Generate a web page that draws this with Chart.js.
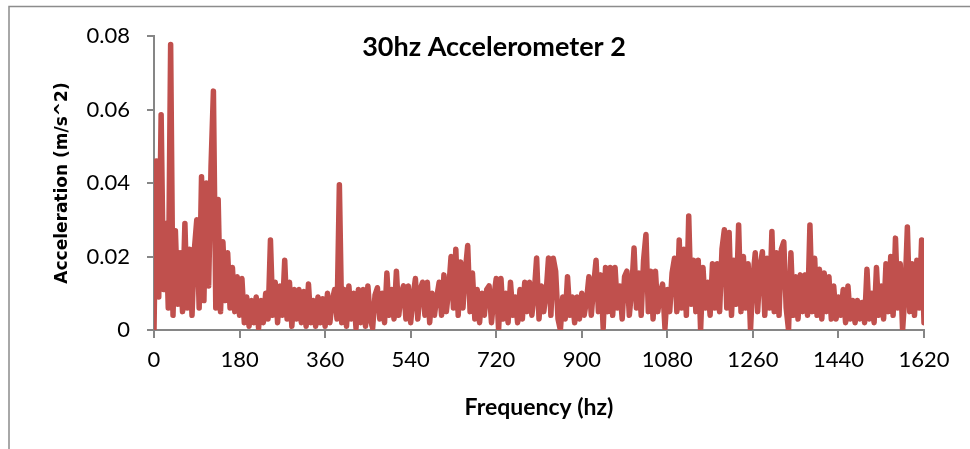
<!DOCTYPE html>
<html>
<head>
<meta charset="utf-8">
<title>30hz Accelerometer 2</title>
<script src="https://cdn.jsdelivr.net/npm/chart.js@4/dist/chart.umd.min.js"></script>
<style>
  html, body { margin: 0; padding: 0; background: #ffffff; }
  #wrap { width: 970px; height: 449px; position: relative; }
</style>
</head>
<body>
<div id="wrap"><canvas id="chart" width="970" height="449"></canvas></div>
<script>
// Spectrum of accelerometer 2 at a 30 Hz drive, one bin every 5 Hz from 0 to 1620 Hz.
const chartTitle = '30hz Accelerometer 2';
const xTitle = 'Frequency (hz)';
const yTitle = 'Acceleration (m/s^2)';
const binWidthHz = 5;
const xTicks = [0, 180, 360, 540, 720, 900, 1080, 1260, 1440, 1620];
const yTicks = [0, 0.02, 0.04, 0.06, 0.08];

// Acceleration amplitude (m/s^2) per bin.
const acceleration = [
  0, 0.046, 0.009, 0.0586, 0.011, 0.029, 0.006, 0.0777, 0.004, 0.027,
  0.007, 0.021, 0.005, 0.029, 0.006, 0.022, 0.004, 0.022, 0.030, 0.006,
  0.0417, 0.008, 0.040, 0.012, 0.0445, 0.065, 0.006, 0.0355, 0.005, 0.024,
  0.008, 0.021, 0.006, 0.017, 0.005, 0.0145, 0.004, 0.014, 0.002, 0.009,
  0.001, 0.008, 0.002, 0.009, 0.0005, 0.008, 0.002, 0.010, 0.003, 0.0245,
  0.004, 0.013, 0.002, 0.012, 0.004, 0.019, 0.003, 0.013, 0.001, 0.011,
  0.003, 0.011, 0.002, 0.0105, 0.001, 0.0125, 0.002, 0.008, 0.001, 0.009,
  0.002, 0.0085, 0.001, 0.010, 0.002, 0.008, 0.011, 0.003, 0.0395, 0.002,
  0.011, 0.001, 0.012, 0.003, 0.010, 0.0005, 0.011, 0.002, 0.011, 0.001,
  0.012, 0.003, 0.0005, 0.0095, 0.0115, 0.003, 0.010, 0.002, 0.0155, 0.004,
  0.011, 0.003, 0.016, 0.004, 0.010, 0.012, 0.003, 0.012, 0.002, 0.009,
  0.014, 0.003, 0.011, 0.013, 0.004, 0.013, 0.002, 0.010, 0.004, 0.009,
  0.013, 0.004, 0.015, 0.005, 0.011, 0.020, 0.006, 0.022, 0.004, 0.0185,
  0.006, 0.016, 0.023, 0.005, 0.0155, 0.003, 0.011, 0.002, 0.010, 0.004,
  0.011, 0.012, 0.002, 0.009, 0.014, 0, 0.014, 0.003, 0.010, 0.002,
  0.013, 0.004, 0.009, 0.002, 0.011, 0.003, 0.013, 0.005, 0.013, 0.004,
  0.010, 0.0196, 0.003, 0.012, 0.005, 0.010, 0.0196, 0.004, 0.0195, 0.016,
  0.003, 0, 0.009, 0.003, 0.0145, 0.004, 0.009, 0.002, 0.009, 0.003,
  0.010, 0.004, 0.008, 0.0145, 0.004, 0.012, 0.019, 0.005, 0.015, 0.0005,
  0.017, 0.005, 0.017, 0.004, 0.017, 0.006, 0.012, 0.003, 0.0145, 0.016,
  0.004, 0.011, 0.0223, 0.006, 0.0155, 0.004, 0.019, 0.026, 0.005, 0.016,
  0.003, 0.016, 0.005, 0.010, 0.0125, 0.0005, 0.011, 0.005, 0.0155, 0.0195,
  0.005, 0.0245, 0.006, 0.022, 0.004, 0.031, 0.007, 0.019, 0.005, 0.019,
  0, 0.017, 0.006, 0.013, 0.004, 0.018, 0.006, 0.018, 0.005, 0.022,
  0.0273, 0.006, 0.0265, 0.004, 0.019, 0.007, 0.0286, 0.005, 0.020, 0.006,
  0.018, 0, 0.014, 0.021, 0.005, 0.017, 0.0213, 0.004, 0.0195, 0.006,
  0.0268, 0.005, 0.021, 0.004, 0.022, 0.024, 0.006, 0, 0.021, 0.004,
  0.0145, 0.003, 0.015, 0.005, 0.015, 0.004, 0.0286, 0.005, 0.0195, 0.004,
  0.0165, 0.003, 0.0155, 0.005, 0.0145, 0.003, 0.012, 0.003, 0.009, 0.004,
  0.011, 0.002, 0.012, 0.003, 0.008, 0.002, 0.008, 0.003, 0.0075, 0.002,
  0.0165, 0.003, 0.010, 0.002, 0.017, 0.004, 0.012, 0.003, 0.018, 0.005,
  0.020, 0.004, 0.025, 0.006, 0.018, 0, 0.010, 0.028, 0.005, 0.018,
  0.004, 0.019, 0.006, 0.0245, 0.002
];

const points = acceleration.map((a, i) => ({ x: i * binWidthHz, y: a }));

const axisGrey = '#868686';
const lineRed = '#C0504D';

// Thin grey frame along the top and left edges, and the chart heading.
const framePlugin = {
  id: 'frame',
  beforeDraw(chart) {
    const ctx = chart.ctx;
    ctx.save();
    ctx.fillStyle = '#ffffff';
    ctx.fillRect(0, 0, chart.width, chart.height);
    ctx.strokeStyle = '#8c8c8c';
    ctx.lineWidth = 1.5;
    ctx.beginPath();
    ctx.moveTo(9, chart.height);
    ctx.lineTo(9, 6.5);
    ctx.lineTo(chart.width, 6.5);
    ctx.stroke();
    ctx.restore();
  },
  afterDraw(chart) {
    const ctx = chart.ctx;
    ctx.save();
    ctx.font = 'bold 27px Lato';
    ctx.fillStyle = '#000000';
    ctx.textAlign = 'center';
    ctx.textBaseline = 'middle';
    ctx.fillText(chartTitle, 494, 47);
    ctx.restore();
  }
};

new Chart(document.getElementById('chart'), {
  type: 'line',
  data: {
    datasets: [{
      data: points,
      borderColor: lineRed,
      backgroundColor: lineRed,
      borderWidth: 5.5,
      borderCapStyle: 'round',
      borderJoinStyle: 'round',
      pointRadius: 0,
      tension: 0,
      fill: false
    }]
  },
  options: {
    responsive: false,
    animation: false,
    events: [],
    layout: { padding: { top: 36, right: 46, left: 0, bottom: 0 } },
    plugins: {
      legend: { display: false },
      tooltip: { enabled: false },
      title: { display: false }
    },
    scales: {
      x: {
        type: 'linear',
        min: 0,
        max: 1620,
        afterBuildTicks(scale) { scale.ticks = xTicks.map(v => ({ value: v })); },
        afterFit(scale) { scale.height = 119; },
        border: { display: true, color: axisGrey, width: 2 },
        grid: { display: true, drawOnChartArea: false, drawTicks: true, tickLength: 8, color: axisGrey, lineWidth: 2 },
        ticks: {
          color: '#000000',
          font: { family: 'Lato', size: 22 },
          padding: 9,
          maxRotation: 0,
          autoSkip: false,
          callback: v => String(v)
        },
        title: {
          display: true,
          text: xTitle,
          color: '#000000',
          font: { family: 'Lato', size: 23, weight: 'bold' },
          padding: { top: 0, bottom: 28 }
        }
      },
      y: {
        type: 'linear',
        min: 0,
        max: 0.08,
        afterBuildTicks(scale) { scale.ticks = yTicks.map(v => ({ value: v })); },
        afterFit(scale) { scale.width = 154; },
        border: { display: true, color: axisGrey, width: 2 },
        grid: { display: true, drawOnChartArea: false, drawTicks: true, tickLength: 7, color: axisGrey, lineWidth: 2 },
        ticks: {
          color: '#000000',
          font: { family: 'Lato', size: 22 },
          padding: 17,
          autoSkip: false,
          callback: v => (v === 0 ? '0' : v.toFixed(2))
        },
        title: {
          display: true,
          text: yTitle,
          color: '#000000',
          font: { family: 'DejaVu Sans', size: 17, weight: 'bold' },
          padding: { top: 52, bottom: 0 }
        }
      }
    }
  },
  plugins: [framePlugin]
});
</script>
</body>
</html>
